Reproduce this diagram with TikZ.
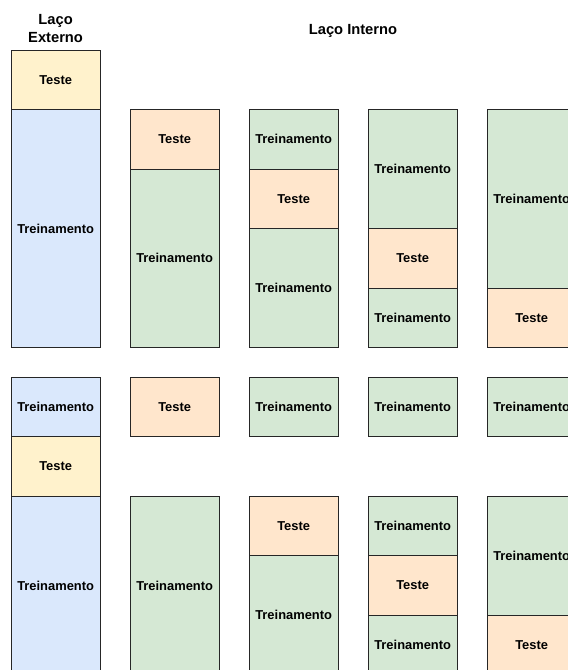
\documentclass[tikz,border=0pt]{standalone}
\usepackage{fontspec}
\setmainfont{Liberation Sans}
\usepackage{xcolor}
\usepackage{tikz}
\usetikzlibrary{positioning}

\definecolor{extteste}{HTML}{FFF2CC}
\definecolor{exttreino}{HTML}{DAE8FC}
\definecolor{intteste}{HTML}{FFE6CC}
\definecolor{inttreino}{HTML}{D5E8D4}

\begin{document}
\begin{tikzpicture}[
    x=1pt, y=-1pt,
    blk/.style={draw=black!85, line width=0.8pt, minimum width=89.3pt,
        anchor=north west, inner sep=0pt, outer sep=0pt,
        font=\bfseries\fontsize{12.9}{15}\selectfont},
    titulo/.style={font=\bfseries\fontsize{14.7}{18.4}\selectfont, align=center}
]

\useasboundingbox (0,0) rectangle (568,670);

% titulos (base = linha de baixo)
\node[titulo, anchor=base] (tit-ext) at (55.6,42.7) {Laço\\Externo};
\node[titulo, anchor=base] (tit-int) at (353,34.3) {Laço Interno};

% primeira divisao: topo em y=50, unidade de 59.5
\foreach \c/\s/\n/\k/\t [count=\i] in {
    0/0/1/extteste/Teste, 0/1/4/exttreino/Treinamento,
    1/1/1/intteste/Teste, 1/2/3/inttreino/Treinamento,
    2/1/1/inttreino/Treinamento, 2/2/1/intteste/Teste, 2/3/2/inttreino/Treinamento,
    3/1/2/inttreino/Treinamento, 3/3/1/intteste/Teste, 3/4/1/inttreino/Treinamento,
    4/1/3/inttreino/Treinamento, 4/4/1/intteste/Teste} {
    \node[blk, fill=\k, minimum height=\n*59.5pt] (a\i)
        at ({11+119*\c},{50+\s*59.5}) {\t};
}

% segunda divisao, meia unidade abaixo
\foreach \c/\s/\n/\k/\t [count=\i] in {
    0/0/1/exttreino/Treinamento, 0/1/1/extteste/Teste, 0/2/3/exttreino/Treinamento,
    1/0/1/intteste/Teste, 1/2/3/inttreino/Treinamento,
    2/0/1/inttreino/Treinamento, 2/2/1/intteste/Teste, 2/3/2/inttreino/Treinamento,
    3/0/1/inttreino/Treinamento, 3/2/1/inttreino/Treinamento, 3/3/1/intteste/Teste,
    3/4/1/inttreino/Treinamento,
    4/0/1/inttreino/Treinamento, 4/2/2/inttreino/Treinamento, 4/4/1/intteste/Teste} {
    \node[blk, fill=\k, minimum height=\n*59.5pt] (b\i)
        at ({11+119*\c},{377.25+\s*59.5}) {\t};
}

\end{tikzpicture}
\end{document}
